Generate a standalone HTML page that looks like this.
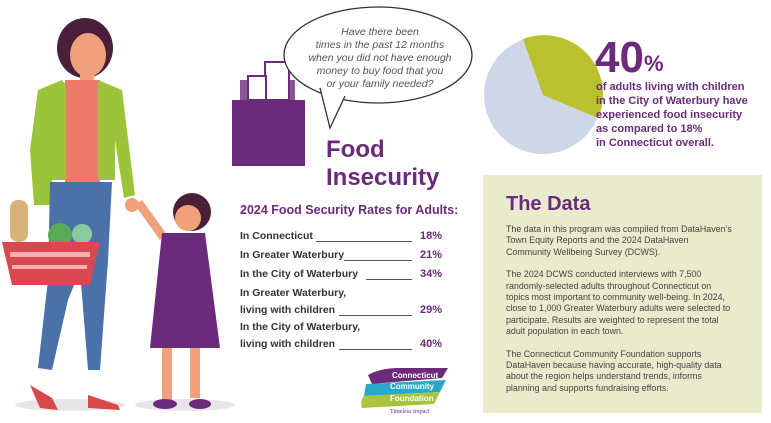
<!DOCTYPE html>
<html><head><meta charset="utf-8"><style>
body{margin:0;width:771px;height:423px;background:#fff;position:relative;overflow:hidden;font-family:"Liberation Sans",sans-serif;}
.a{position:absolute;}
.p{color:#6b2a7a;font-weight:bold;}
.row{position:absolute;left:240px;font-size:10.5px;font-weight:bold;color:#333;line-height:17px;}
.pc{position:absolute;left:420px;font-size:11px;font-weight:bold;color:#6b2a7a;}
.ln{position:absolute;border-bottom:1px solid #555;height:0;}
.box p{margin:0 0 11px 0;}
</style></head><body>
<svg class="a" style="left:0;top:0" width="771" height="423">
 <ellipse cx="70" cy="405" rx="55" ry="6" fill="#e6e6ea"/>
 <ellipse cx="185" cy="405" rx="50" ry="6" fill="#e6e6ea"/>
 <ellipse cx="85" cy="48" rx="28" ry="30" fill="#4a1f3a"/>
 <ellipse cx="88" cy="55" rx="18" ry="22" fill="#f0a07a"/>
 <rect x="80" y="72" width="14" height="12" fill="#f0a07a"/>
 <rect x="65" y="80" width="35" height="105" fill="#f07a6a"/>
 <path d="M62 80 L38 90 L30 150 L34 205 L50 205 L52 180 L66 180 L66 85 Z" fill="#9cc43a"/>
 <path d="M98 80 L122 90 L135 195 L124 198 L115 140 L115 180 L98 180 Z" fill="#9cc43a"/>
 <circle cx="132" cy="205" r="7" fill="#f0a07a"/>
 <path d="M50 182 L112 182 L108 260 L100 370 L88 370 L80 270 L68 300 L52 370 L38 368 L48 280 Z" fill="#4a72a8"/>
 <path d="M30 385 L52 398 L58 410 L40 408 Z" fill="#d94848"/>
 <path d="M88 395 L118 405 L120 410 L88 408 Z" fill="#d94848"/>
 <rect x="10" y="200" width="18" height="42" rx="8" fill="#d9b27a"/>
 <circle cx="60" cy="235" r="12" fill="#5aaa5a"/>
 <circle cx="82" cy="234" r="10" fill="#8acaa0"/>
 <path d="M2 242 L100 242 L90 285 L12 285 Z" fill="#d94850"/>
 <rect x="10" y="252" width="80" height="5" fill="#f7b0b0"/>
 <rect x="12" y="265" width="75" height="4" fill="#f7b0b0"/>
 <path d="M135 205 L160 240 L165 232 L142 200 Z" fill="#f0a07a"/>
 <circle cx="192" cy="212" r="19" fill="#4a1f3a"/>
 <circle cx="188" cy="218" r="13" fill="#f0a07a"/>
 <path d="M162 233 L205 233 L220 348 L150 348 Z" fill="#6b2a7a"/>
 <rect x="162" y="348" width="10" height="52" fill="#f0a07a"/>
 <rect x="190" y="348" width="10" height="50" fill="#f0a07a"/>
 <ellipse cx="165" cy="404" rx="12" ry="5" fill="#6b2a7a"/>
 <ellipse cx="200" cy="404" rx="11" ry="5" fill="#6b2a7a"/>
 <rect x="240" y="80" width="55" height="22" fill="#6b2a7a" opacity="0.8"/>
 <rect x="265" y="62" width="24" height="38" fill="#fff" stroke="#6b2a7a" stroke-width="2"/>
 <rect x="248" y="76" width="18" height="24" fill="#fff" stroke="#6b2a7a" stroke-width="2"/>
 <path d="M232 100 L305 100 L305 166 L232 166 Z" fill="#6b2a7a"/>
 <ellipse cx="378" cy="55" rx="94" ry="48" fill="#fff" stroke="#333" stroke-width="1.3"/>
 <path d="M320 88 L330 128 L345 96" fill="#fff" stroke="#333" stroke-width="1.3"/>
 <path d="M322 88 L345 96 L340 88Z" fill="#fff"/>
 <circle cx="543" cy="95" r="59" fill="#cdd7e8"/>
 <path d="M543 95 L523 39 A59 59 0 0 1 598 118 Z" fill="#b9c12e"/>
 <path d="M368 375 Q380 368 400 368 L448 368 L442 378 L372 384 Z" fill="#6b2a7a"/>
 <path d="M366 384 L446 380 L440 392 L364 396 Z" fill="#2aa8c8"/>
 <path d="M364 396 L440 392 L434 404 L362 408 Q360 400 364 396 Z" fill="#a8c43a"/>
 <text x="392" y="378" font-size="8" font-weight="bold" fill="#fff" font-family="Liberation Sans">Connecticut</text>
 <text x="390" y="389" font-size="8" font-weight="bold" fill="#fff" font-family="Liberation Sans">Community</text>
 <text x="390" y="401" font-size="8" font-weight="bold" fill="#fff" font-family="Liberation Sans">Foundation</text>
 <text x="390" y="413" font-size="6" fill="#6b2a7a" font-family="Liberation Serif">Timeless Impact</text>
</svg>
<div class="a" style="left:300px;top:26px;width:160px;text-align:center;font-size:10.5px;font-style:italic;color:#555;line-height:13px;">Have there been<br>times in the past 12 months<br>when you did not have enough<br>money to buy food that you<br>or your family needed?</div>
<div class="a p" style="left:326px;top:136px;font-size:24px;line-height:28px;">Food<br>Insecurity</div>
<div class="a p" style="left:240px;top:203px;font-size:12.5px;">2024 Food Security Rates for Adults:</div>
<div class="row" style="top:228px">In Connecticut</div><div class="ln" style="left:316px;width:96px;top:241px"></div><div class="pc" style="top:230px">18%</div>
<div class="row" style="top:247px">In Greater Waterbury</div><div class="ln" style="left:344px;width:68px;top:260px"></div><div class="pc" style="top:249px">21%</div>
<div class="row" style="top:266px">In the City of Waterbury</div><div class="ln" style="left:366px;width:46px;top:279px"></div><div class="pc" style="top:268px">34%</div>
<div class="row" style="top:285px">In Greater Waterbury,<br>living with children</div><div class="ln" style="left:339px;width:73px;top:315px"></div><div class="pc" style="top:304px">29%</div>
<div class="row" style="top:319px">In the City of Waterbury,<br>living with children</div><div class="ln" style="left:339px;width:73px;top:349px"></div><div class="pc" style="top:338px">40%</div>
<div class="a p" style="left:595px;top:34px;font-size:44px;line-height:48px;">40<span style="font-size:22px;vertical-align:top;position:relative;top:6px">%</span></div>
<div class="a p" style="left:596px;top:80px;font-size:11px;line-height:14px;">of adults living with children<br>in the City of Waterbury have<br>experienced food insecurity<br>as compared to 18%<br>in Connecticut overall.</div>
<div class="a box" style="left:483px;top:175px;width:279px;height:238px;background:#e9ebcc;">
 <div class="p" style="position:absolute;left:23px;top:18px;font-size:20px;">The Data</div>
 <div style="position:absolute;left:23px;top:49px;width:234px;font-size:8.9px;line-height:11.4px;color:#444;">
 <p>The data in this program was compiled from DataHaven’s<br>Town Equity Reports and the 2024 DataHaven<br>Community Wellbeing Survey (DCWS).</p>
 <p>The 2024 DCWS conducted interviews with 7,500<br>randomly-selected adults throughout Connecticut on<br>topics most important to community well-being. In 2024,<br>close to 1,000 Greater Waterbury adults were selected to<br>participate. Results are weighted to represent the total<br>adult population in each town.</p>
 <p>The Connecticut Community Foundation supports<br>DataHaven because having accurate, high-quality data<br>about the region helps understand trends, informs<br>planning and supports fundraising efforts.</p>
 </div>
</div>
</body></html>
